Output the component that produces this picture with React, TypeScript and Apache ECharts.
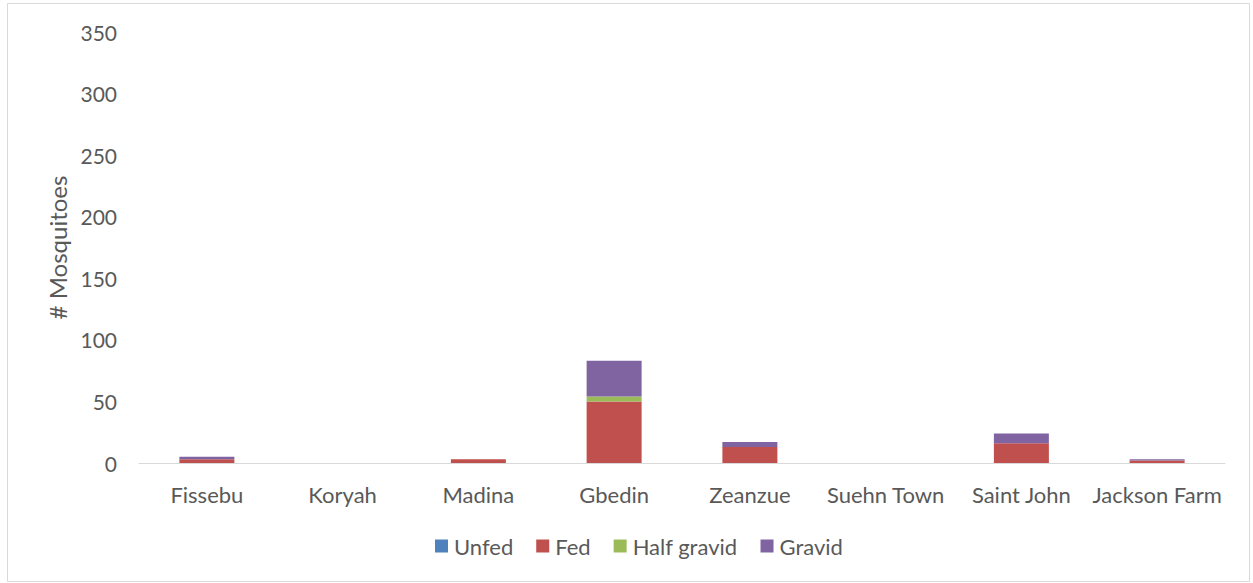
import React, { useEffect, useRef } from "react";
import * as echarts from "echarts";

const villages = ["Fissebu", "Koryah", "Madina", "Gbedin", "Zeanzue", "Suehn Town", "Saint John", "Jackson Farm"];
const unfed = [0, 0, 0, 0, 0, 0, 0, 0];
const fed = [3, 0, 3, 50, 13, 0, 16, 2];
const halfGravid = [0, 0, 0, 4, 0, 0, 0, 0];
const gravid = [2, 0, 0, 29, 4, 0, 8, 1];

const seriesNames = ["Unfed", "Fed", "Half gravid", "Gravid"];
const seriesColors = ["#4F81BD", "#C0504D", "#9BBB59", "#8064A2"];

const FONT = "Lato, 'Open Sans', sans-serif";
const TEXT = "#595959";

export default function App() {
  const ref = useRef<HTMLDivElement>(null);

  useEffect(() => {
    if (!ref.current) return;
    const chart = echarts.init(ref.current, undefined, { renderer: "svg" });
    const values = [unfed, fed, halfGravid, gravid];
    chart.setOption({
      animation: false,
      backgroundColor: "#ffffff",
      textStyle: { fontFamily: FONT },
      graphic: [
        {
          type: "rect",
          shape: { x: 7.5, y: 3.5, width: 1242, height: 578 },
          style: { fill: "none", stroke: "#d9d9d9", lineWidth: 1 },
          silent: true,
        },
      ],
      grid: { left: 139, right: 28, top: 32, bottom: 120, containLabel: false },
      legend: {
        top: 530,
        left: 430,
        itemWidth: 13,
        itemHeight: 13,
        itemGap: 23,
        icon: "rect",
        textStyle: { fontSize: 22, color: TEXT, fontFamily: FONT, padding: [0, 0, 0, 1] },
        data: seriesNames,
      },
      xAxis: {
        type: "category",
        data: villages,
        axisLine: { lineStyle: { color: "#d9d9d9", width: 1 } },
        axisTick: { show: false },
        axisLabel: { interval: 0, fontSize: 22, color: TEXT, fontFamily: FONT, margin: 20 },
      },
      yAxis: {
        type: "value",
        min: 0,
        max: 350,
        interval: 50,
        name: "# Mosquitoes",
        nameLocation: "middle",
        nameGap: 66,
        nameTextStyle: { fontSize: 24, color: TEXT, fontFamily: FONT },
        splitLine: { show: false },
        axisLine: { show: false },
        axisTick: { show: false },
        axisLabel: { fontSize: 21, color: TEXT, fontFamily: FONT, margin: 22 },
      },
      series: seriesNames.map((name, i) => ({
        name,
        type: "bar",
        stack: "total",
        barWidth: 55,
        data: values[i],
        itemStyle: { color: seriesColors[i] },
      })),
    });
    return () => chart.dispose();
  }, []);

  return (
    <div
      ref={ref}
      style={{ position: "fixed", left: 0, top: 0, width: 1253, height: 583 }}
    />
  );
}
